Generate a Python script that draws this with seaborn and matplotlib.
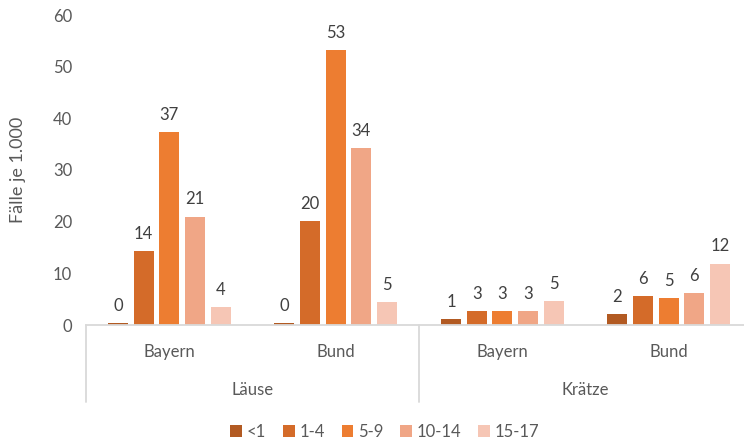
import matplotlib
matplotlib.use("Agg")
import matplotlib.pyplot as plt
import seaborn as sns
import pandas as pd

# ---- data ----
categories = ["Bayern", "Bund", "Bayern", "Bund"]
groups = ["Läuse", "Krätze"]
age_groups = ["<1", "1-4", "5-9", "10-14", "15-17"]
values = {
    "<1":    [0.3, 0.3, 1.1, 2.1],
    "1-4":   [14.3, 20.2, 2.7, 5.6],
    "5-9":   [37.3, 53.2, 2.7, 5.3],
    "10-14": [21.0, 34.3, 2.7, 6.2],
    "15-17": [3.4, 4.5, 4.7, 11.9],
}
labels = {
    "<1":    ["0", "0", "1", "2"],
    "1-4":   ["14", "20", "3", "6"],
    "5-9":   ["37", "53", "3", "5"],
    "10-14": ["21", "34", "3", "6"],
    "15-17": ["4", "5", "5", "12"],
}
y_ticks = [0, 10, 20, 30, 40, 50, 60]
y_label = "Fälle je 1.000"

colors = ["#B25A22", "#D46B29", "#ED7D31", "#F0A686", "#F6C6B5"]

rows = []
for ag in age_groups:
    for i, v in enumerate(values[ag]):
        rows.append({"pos": i, "age": ag, "val": v})
df = pd.DataFrame(rows)

sns.set_theme(style="white")
plt.rcParams["font.family"] = ["Lato", "DejaVu Sans"]

fig = plt.figure(figsize=(7.44, 4.42), dpi=100)
ax = fig.add_axes([86 / 744, 117 / 442, 666 / 744, 310 / 442])

sns.barplot(data=df, x="pos", y="val", hue="age", hue_order=age_groups,
            palette=colors, saturation=1, width=0.77, gap=0.22, ax=ax,
            linewidth=0, edgecolor="none", legend=True)

for cont, ag in zip(ax.containers, age_groups):
    ax.bar_label(cont, labels=labels[ag], padding=6.5, fontsize=12, color="#404040")

ax.set_ylim(0, 60)
ax.set_yticks(y_ticks)
ax.set_yticklabels([str(t) for t in y_ticks], color="#595959", fontsize=12)
ax.tick_params(axis="y", length=0, pad=10)
ax.set_xlim(-0.5, 3.5)
ax.set_xticks([])
ax.set_xlabel("")
ax.set_ylabel(y_label, fontsize=13, color="#595959")
ax.yaxis.set_label_coords(-0.09, 0.5)

for s in ["left", "top", "right"]:
    ax.spines[s].set_visible(False)
ax.spines["bottom"].set_color("#D9D9D9")
ax.spines["bottom"].set_linewidth(1.3)

tr = ax.get_xaxis_transform()
for i, c in enumerate(categories):
    ax.text(i, -0.087, c, transform=tr, ha="center", va="center",
            fontsize=12, color="#595959")
for j, g in enumerate(groups):
    ax.text(2 * j + 0.5, -0.21, g, transform=tr, ha="center", va="center",
            fontsize=12, color="#595959")
for xs in [-0.5, 1.5, 3.5]:
    ax.plot([xs, xs], [0, -0.248], transform=tr, color="#D9D9D9",
            linewidth=1.3, clip_on=False)

handles, lbls = ax.get_legend_handles_labels()
ax.get_legend().remove()
fig.legend(handles, lbls, loc="center", bbox_to_anchor=(385 / 744, 10 / 442),
           ncol=5, frameon=False, fontsize=12, handlelength=0.7,
           handleheight=0.7, handletextpad=0.3, columnspacing=1.0,
           labelcolor="#595959")

fig.savefig("out.png", dpi=100)
